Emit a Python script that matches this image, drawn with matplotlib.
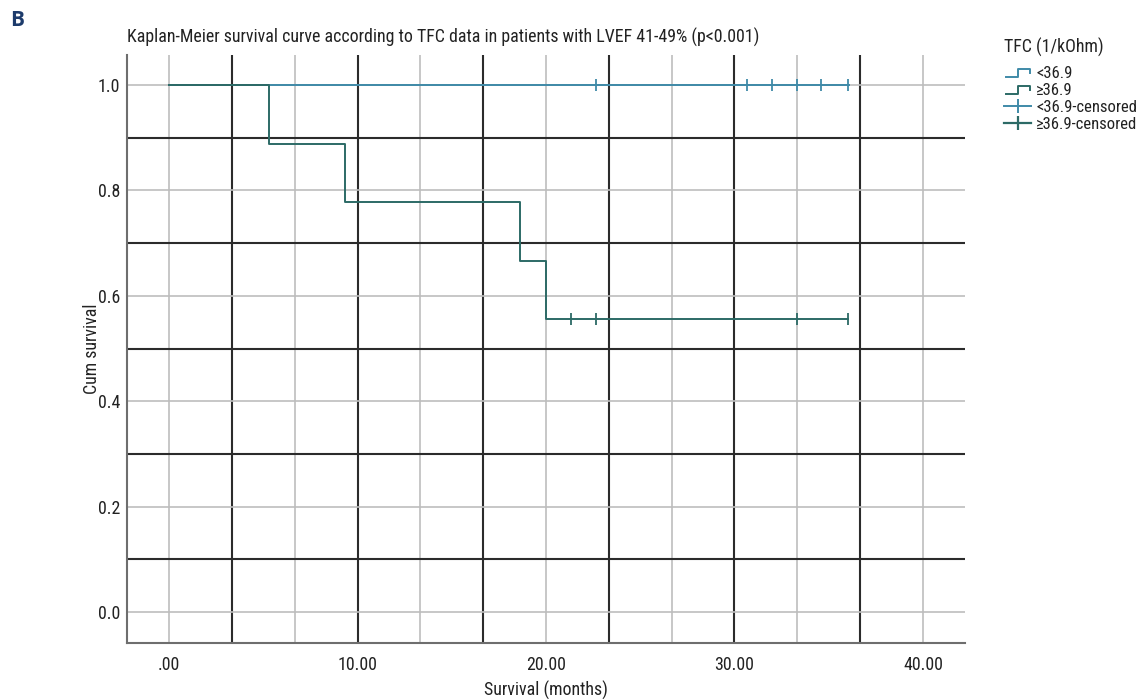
import matplotlib
matplotlib.use("Agg")
import matplotlib.pyplot as plt
import matplotlib.font_manager as fm
from matplotlib.lines import Line2D
from matplotlib.legend_handler import HandlerBase
import numpy as np

# ---- data ----
g1_label = "<36.9"
g1_times = [0.0, 36.1]
g1_surv = [1.0, 1.0]
g1_cens_t = [22.65, 30.65, 32.0, 33.3, 34.6, 36.0]

g2_label = "\u226536.9"
g2_times = [0.0, 5.3, 9.35, 18.6, 20.0, 36.0]
g2_surv = [1.0, 0.889, 0.778, 0.667, 0.556, 0.556]
g2_cens_t = [21.3, 22.65, 33.3, 36.0]

x_ticks = [0, 10, 20, 30, 40]
x_ticklabels = [".00", "10.00", "20.00", "30.00", "40.00"]
y_ticks = [0.0, 0.2, 0.4, 0.6, 0.8, 1.0]
y_ticklabels = ["0.0", "0.2", "0.4", "0.6", "0.8", "1.0"]
title_text = "Kaplan-Meier survival curve according to TFC data in patients with LVEF 41-49% (p<0.001)"
legend_title = "TFC (1/kOhm)"
legend_labels = [g1_label, g2_label, "<36.9-censored", "\u226536.9-censored"]

# ---- font choice: prefer a condensed face ----
entries = fm.fontManager.ttflist
def find_cond():
    prefs = ['Liberation Sans Narrow', 'Roboto Condensed', 'Open Sans Condensed',
             'Noto Sans Condensed', 'DejaVu Sans']
    for p in prefs:
        for f in entries:
            if f.name == p and str(f.stretch) in ('condensed', 'semi-condensed', 'extra-condensed') \
                    and f.weight in (400, 'normal', 'regular') and f.style == 'normal':
                return f.name, 'condensed'
            if f.name == p and ('Narrow' in p or 'Condensed' in p):
                return f.name, 'normal'
    for f in entries:
        if str(f.stretch) in ('condensed', 'semi-condensed') and f.weight in (400, 'normal'):
            return f.name, 'condensed'
    return 'Liberation Sans', 'normal'

main_font, stretch = find_cond()
plt.rcParams['font.family'] = [main_font, 'DejaVu Sans']
plt.rcParams['font.stretch'] = stretch

# scale font size so the title roughly matches the reference width
fig0 = plt.figure(figsize=(11.37, 6.99), dpi=100)
t0 = fig0.text(0, 0.5, title_text, fontsize=13)
fig0.canvas.draw()
w0 = t0.get_window_extent().width
plt.close(fig0)
fs = 13 * 630.0 / w0
lfs = fs * 0.93

c1 = "#3f8aa8"
c2 = "#2c6a66"
tc = "#222222"

def surv_at(times, surv, t):
    idx = np.searchsorted(times, t, side='right') - 1
    return surv[idx]

fig = plt.figure(figsize=(11.37, 6.99), dpi=100)
ax = fig.add_axes([127/1137, 1-643/699, (965-127)/1137, (643-55)/699])

ax.set_xlim(-2.23, 42.23)
ax.set_ylim(-0.0585, 1.057)

light = "#bdbdbd"
dark = "#2b2b2b"
for k in range(0, 7):
    ax.axvline(k * 20/3, color=light, lw=1.2, zorder=1)
for k in range(0, 6):
    ax.axvline(10/3 + k * 20/3, color=dark, lw=1.5, zorder=1)
for v in y_ticks:
    ax.axhline(v, color=light, lw=1.2, zorder=1)
for v in [0.1, 0.3, 0.5, 0.7, 0.9]:
    ax.axhline(v, color=dark, lw=1.5, zorder=1)

ax.step(g1_times, g1_surv, where='post', color=c1, lw=1.4, zorder=3)
ax.plot(g1_cens_t, [surv_at(g1_times, g1_surv, t) for t in g1_cens_t],
        ls='none', marker='|', ms=8, mew=1.3, color=c1, zorder=4)
ax.step(g2_times, g2_surv, where='post', color=c2, lw=1.4, zorder=3)
ax.plot(g2_cens_t, [surv_at(g2_times, g2_surv, t) for t in g2_cens_t],
        ls='none', marker='|', ms=8, mew=1.3, color=c2, zorder=4)

ax.set_xticks(x_ticks)
ax.set_xticklabels(x_ticklabels)
ax.set_yticks(y_ticks)
ax.set_yticklabels(y_ticklabels)
ax.tick_params(length=0, labelsize=fs, colors=tc)
ax.tick_params(axis='x', pad=9)
ax.tick_params(axis='y', pad=5)
for s in ['top', 'right']:
    ax.spines[s].set_visible(False)
for s in ['left', 'bottom']:
    ax.spines[s].set_color("#6e6e6e")
    ax.spines[s].set_linewidth(1.5)

ax.set_xlabel("Survival (months)", fontsize=fs, color=tc)
ax.set_ylabel("Cum survival", fontsize=fs, color=tc)
ax.xaxis.set_label_coords(0.5, (643-690)/588, transform=ax.transAxes)
ax.yaxis.set_label_coords((92-127)/838, 0.5, transform=ax.transAxes)
ax.xaxis.label.set_va('center')
ax.yaxis.label.set_va('center')

fig.text(127/1137, 1-37/699, title_text,
         fontsize=fs, ha='left', va='center', color=tc)
fig.text(10/1137, 1-20/699, "B", fontsize=15, fontweight='bold', color="#1d3b6b",
         ha='left', va='center', family=['Open Sans', 'DejaVu Sans'], stretch='normal')


class HandlerStepLine(HandlerBase):
    def create_artists(self, legend, orig_handle, xdescent, ydescent,
                       width, height, fontsize, trans):
        x0 = -xdescent
        y0 = -ydescent
        xs = [x0 + 0.05*width, x0 + 0.5*width, x0 + 0.5*width, x0 + 0.95*width, x0 + 0.95*width]
        ys = [y0 + 0.1*height, y0 + 0.1*height, y0 + 0.75*height, y0 + 0.75*height, y0 + 0.4*height]
        l = Line2D(xs, ys, color=orig_handle.get_color(), lw=1.4, transform=trans)
        return [l]


h1 = Line2D([], [], color=c1)
h2 = Line2D([], [], color=c2)
h3 = Line2D([], [], color=c1, marker='|', ms=10, mew=1.4, lw=1.4)
h4 = Line2D([], [], color=c2, marker='|', ms=10, mew=1.6, lw=1.6)

leg = fig.legend([h1, h2, h3, h4], legend_labels,
                 handler_map={h1: HandlerStepLine(), h2: HandlerStepLine()},
                 loc='upper left', bbox_to_anchor=(996/1137, 1-30/699),
                 frameon=False, fontsize=lfs, title=legend_title, title_fontsize=fs,
                 handlelength=1.6, handletextpad=0.3, labelspacing=0.13,
                 borderpad=0.0, numpoints=1, alignment='left')
for t in leg.get_texts():
    t.set_color(tc)
leg.get_title().set_color(tc)
leg._legend_box.sep = 6

fig.savefig("out.png", dpi=100)
